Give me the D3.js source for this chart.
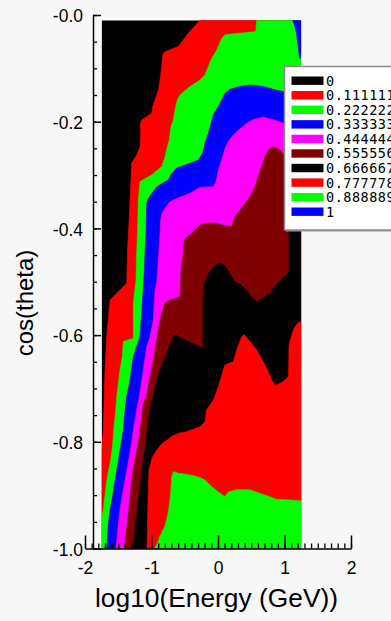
<!DOCTYPE html>
<html>
<head>
<meta charset="utf-8">
<script src="https://cdn.jsdelivr.net/npm/d3@7"></script>
<style>
  html, body { margin: 0; padding: 0; background: #f7f7f7; }
  svg { display: block; }
</style>
</head>
<body>
<svg id="chart" width="391" height="621"></svg>
<script>
// Contour levels, their labels and fill colours (palette repeats after 0.555556)
const levels = [0, 0.111111, 0.222222, 0.333333, 0.444444, 0.555556, 0.666667, 0.777778, 0.888889, 1];
const levelLabels = ["0", "0.111111", "0.222222", "0.333333", "0.444444", "0.555556", "0.666667", "0.777778", "0.888889", "1"];
const levelColors = ["#000000", "#ff0000", "#00ff00", "#0000ff", "#ff00ff", "#800000", "#000000", "#ff0000", "#00ff00", "#0000ff"];

// Axis ticks
const xTicks = [-2, -1, 0, 1, 2];
const xTickLabels = ["-2", "-1", "0", "1", "2"];
const yTicks = [-1, -0.8, -0.6, -0.4, -0.2, 0];
const yTickLabels = ["-1.0", "-0.8", "-0.6", "-0.4", "-0.2", "-0.0"];

// Extent of the sampled (log10 E, cos theta) grid
const logEExtent = [-1.75, 1.25];
const cosExtent = [-1, -0.01];

// Iso-lines [log10 E, cos theta] bounding the region where the value >= level

// level 0.111111: from the top edge down to the left edge
const iso1 = [[-0.27, -0.01], [-0.447, -0.034], [-0.597, -0.059], [-0.797, -0.069], [-0.832, -0.075],
  [-0.847, -0.097], [-0.872, -0.122], [-0.898, -0.141], [-0.947, -0.159], [-0.982, -0.172],
  [-0.997, -0.184], [-1.147, -0.197], [-1.173, -0.206], [-1.162, -0.219], [-1.173, -0.247],
  [-1.223, -0.262], [-1.298, -0.278], [-1.313, -0.322], [-1.334, -0.378], [-1.358, -0.434],
  [-1.373, -0.503], [-1.624, -0.534], [-1.674, -0.603], [-1.699, -0.665], [-1.714, -0.728],
  [-1.725, -0.778], [-1.75, -0.815]];

// level 0.222222: from the top edge down to the left edge
const iso2 = [[0.582, -0.01], [0.567, -0.031], [0.105, -0.037], [0.056, -0.044], [-0.02, -0.066],
  [-0.095, -0.081], [-0.146, -0.097], [-0.195, -0.112], [-0.271, -0.122], [-0.421, -0.134],
  [-0.571, -0.15], [-0.612, -0.159], [-0.647, -0.178], [-0.672, -0.197], [-0.707, -0.209],
  [-0.732, -0.234], [-0.762, -0.247], [-0.797, -0.266], [-0.847, -0.284], [-0.997, -0.3],
  [-1.173, -0.312], [-1.198, -0.347], [-1.208, -0.397], [-1.223, -0.447], [-1.233, -0.497],
  [-1.273, -0.54], [-1.273, -0.606], [-1.424, -0.612], [-1.439, -0.64], [-1.474, -0.665],
  [-1.499, -0.69], [-1.523, -0.715], [-1.538, -0.74], [-1.564, -0.772], [-1.583, -0.803],
  [-1.613, -0.834], [-1.654, -0.859], [-1.684, -0.884], [-1.707, -0.909], [-1.725, -0.928],
  [-1.75, -0.943]];

// level 0.333333: from the right edge down to the bottom edge
const iso3 = [[1.25, -0.144], [1.008, -0.144], [0.883, -0.141], [0.681, -0.134], [0.481, -0.131],
  [0.331, -0.134], [0.18, -0.139], [0.105, -0.147], [0.056, -0.159], [0.005, -0.172],
  [-0.071, -0.187], [-0.11, -0.206], [-0.146, -0.222], [-0.195, -0.24], [-0.23, -0.259],
  [-0.296, -0.272], [-0.421, -0.278], [-0.621, -0.287], [-0.696, -0.297], [-0.747, -0.309],
  [-0.922, -0.322], [-1.048, -0.344], [-1.072, -0.353], [-1.083, -0.409], [-1.098, -0.447],
  [-1.11, -0.487], [-1.173, -0.603], [-1.273, -0.64], [-1.323, -0.684], [-1.373, -0.715],
  [-1.398, -0.74], [-1.424, -0.778], [-1.463, -0.809], [-1.504, -0.84], [-1.549, -0.872],
  [-1.586, -0.903], [-1.624, -0.928], [-1.649, -0.953], [-1.674, -1.0]];

// level 0.333333: small patch in the top right corner
const iso3Corner = [[1.123, -0.01], [1.15, -0.019], [1.18, -0.034], [1.203, -0.056],
  [1.226, -0.081], [1.25, -0.081]];

// level 0.444444: from the right edge down to the bottom edge
const iso4 = [[1.25, -0.204], [1.008, -0.204], [0.883, -0.198], [0.681, -0.191], [0.531, -0.196],
  [0.432, -0.203], [0.305, -0.216], [0.206, -0.228], [0.155, -0.237], [0.105, -0.25],
  [0.056, -0.272], [0.005, -0.291], [-0.03, -0.312], [-0.071, -0.322], [-0.271, -0.323],
  [-0.421, -0.334], [-0.621, -0.344], [-0.722, -0.35], [-0.797, -0.362], [-0.847, -0.372],
  [-0.862, -0.384], [-0.872, -0.409], [-0.898, -0.459], [-0.917, -0.497], [-0.947, -0.515],
  [-0.973, -0.572], [-1.023, -0.603], [-1.072, -0.622], [-1.123, -0.665], [-1.147, -0.684],
  [-1.183, -0.715], [-1.223, -0.74], [-1.273, -0.778], [-1.308, -0.809], [-1.353, -0.84],
  [-1.398, -0.872], [-1.444, -0.903], [-1.474, -0.928], [-1.504, -0.959], [-1.534, -1.0]];

// level 0.555556: from the right edge down to the bottom edge
const iso5 = [[1.25, -0.264], [1.008, -0.266], [0.932, -0.253], [0.832, -0.247], [0.756, -0.253],
  [0.707, -0.266], [0.657, -0.284], [0.606, -0.303], [0.556, -0.322], [0.481, -0.341],
  [0.406, -0.353], [0.331, -0.366], [0.256, -0.378], [0.206, -0.397], [0.08, -0.394],
  [-0.045, -0.39], [-0.17, -0.39], [-0.271, -0.394], [-0.346, -0.403], [-0.421, -0.412],
  [-0.496, -0.419], [-0.511, -0.428], [-0.522, -0.447], [-0.556, -0.478], [-0.571, -0.528],
  [-0.722, -0.534], [-0.797, -0.54], [-0.847, -0.559], [-0.898, -0.59], [-0.947, -0.628],
  [-0.997, -0.665], [-1.033, -0.684], [-1.072, -0.715], [-1.123, -0.728], [-1.147, -0.753],
  [-1.18, -0.784], [-1.218, -0.815], [-1.256, -0.84], [-1.293, -0.865], [-1.323, -0.903],
  [-1.353, -0.94], [-1.383, -0.972], [-1.406, -1.0]];

// level 0.666667: from the bottom edge, round the upper lobe, to the right edge
const iso6 = [[-1.271, -1.0], [-1.248, -0.965], [-1.203, -0.915], [-1.143, -0.853], [-1.083, -0.802],
  [-1.023, -0.74], [-0.977, -0.716], [-0.917, -0.684], [-0.842, -0.656], [-0.752, -0.628],
  [-0.672, -0.603], [-0.647, -0.6], [-0.271, -0.622], [-0.226, -0.624], [-0.226, -0.534],
  [-0.211, -0.506], [-0.165, -0.491], [-0.105, -0.478], [-0.03, -0.469], [0.03, -0.465],
  [0.105, -0.47], [0.18, -0.485], [0.241, -0.499], [0.346, -0.506], [0.436, -0.517],
  [0.511, -0.529], [0.586, -0.538], [0.677, -0.53], [0.782, -0.521], [0.872, -0.506],
  [0.977, -0.493], [1.068, -0.482], [1.068, -0.328], [1.25, -0.328]];

// level 0.777778: from the bottom edge to the right edge
const iso7 = [[-1.068, -1.0], [-1.053, -0.909], [-1.038, -0.853], [-0.992, -0.83], [-0.917, -0.815],
  [-0.847, -0.804], [-0.696, -0.79], [-0.597, -0.784], [-0.471, -0.781], [-0.271, -0.772],
  [-0.195, -0.762], [-0.17, -0.74], [-0.071, -0.722], [0.005, -0.697], [0.08, -0.665],
  [0.105, -0.656], [0.23, -0.65], [0.281, -0.628], [0.356, -0.603], [0.391, -0.599],
  [0.481, -0.612], [0.582, -0.628], [0.681, -0.65], [0.756, -0.669], [0.832, -0.69],
  [0.872, -0.694], [0.982, -0.687], [1.06, -0.678], [1.068, -0.619], [1.098, -0.604],
  [1.143, -0.587], [1.203, -0.577], [1.25, -0.575]];

// level 0.888889: from the bottom edge to the right edge
const iso8 = [[-0.955, -1.0], [-0.917, -0.992], [-0.872, -0.977], [-0.797, -0.958], [-0.747, -0.932],
  [-0.714, -0.9], [-0.696, -0.866], [-0.672, -0.856], [-0.597, -0.859], [-0.421, -0.862],
  [-0.271, -0.867], [-0.195, -0.872], [-0.095, -0.884], [0.005, -0.894], [0.105, -0.903],
  [0.155, -0.894], [0.281, -0.89], [0.481, -0.89], [0.632, -0.897], [0.782, -0.903],
  [0.883, -0.908], [1.083, -0.909], [1.25, -0.911]];

// Fill order: each region is the set where the value reaches its level,
// closed along the grid border through the listed corners.
const regions = [
  { level: 1, pts: iso1, corners: ["bl", "br", "tr"] },
  { level: 2, pts: iso2, corners: ["bl", "br", "tr"] },
  { level: 3, pts: iso3, corners: ["br"] },
  { level: 3, pts: iso3Corner, corners: ["tr"] },
  { level: 4, pts: iso4, corners: ["br"] },
  { level: 5, pts: iso5, corners: ["br"] },
  { level: 6, pts: iso6, corners: ["br"] },
  { level: 7, pts: iso7, corners: ["br"] },
  { level: 8, pts: iso8, corners: ["br"] }
];

const svg = d3.select("#chart");
const W = 391, H = 621;

svg.append("rect").attr("width", W).attr("height", H).attr("fill", "#f7f7f7");

const x = d3.scaleLinear().domain([-2, 2]).range([85, 351]);
const y = d3.scaleLinear().domain([-1, 0]).range([548.5, 15]);

const corner = {
  bl: [logEExtent[0], cosExtent[0]],
  br: [logEExtent[1], cosExtent[0]],
  tr: [logEExtent[1], cosExtent[1]],
  tl: [logEExtent[0], cosExtent[1]]
};

// clip to the sampled grid
svg.append("clipPath").attr("id", "grid")
  .append("rect")
  .attr("x", x(logEExtent[0]))
  .attr("y", y(cosExtent[1]))
  .attr("width", x(logEExtent[1]) - x(logEExtent[0]))
  .attr("height", y(cosExtent[0]) - y(cosExtent[1]));

const plot = svg.append("g").attr("clip-path", "url(#grid)");

// lowest level fills the whole grid
plot.append("rect")
  .attr("x", x(logEExtent[0]))
  .attr("y", y(cosExtent[1]))
  .attr("width", x(logEExtent[1]) - x(logEExtent[0]))
  .attr("height", y(cosExtent[0]) - y(cosExtent[1]))
  .attr("fill", levelColors[0]);

const line = d3.line().x(d => x(d[0])).y(d => y(d[1]));

plot.selectAll("path.band")
  .data(regions)
  .join("path")
  .attr("class", "band")
  .attr("d", r => line(r.pts.concat(r.corners.map(c => corner[c]))) + "Z")
  .attr("fill", r => levelColors[r.level])
  .attr("stroke", r => levelColors[r.level])
  .attr("stroke-width", 0.6);

// ---- axes ----
const axisColor = "#000";
const tickFont = "Liberation Sans, Arial, Helvetica, sans-serif";

// y axis (ticks point into the plot, labels on the left)
const yAxisX = 93;
const yMinor = d3.range(-1, 0.0001, 0.05).map(v => +v.toFixed(2));
svg.append("g")
  .attr("transform", `translate(${yAxisX},0)`)
  .call(d3.axisLeft(y).tickValues(yMinor).tickSize(-4).tickSizeOuter(0).tickFormat(""))
  .call(g => g.select(".domain").remove())
  .call(g => g.selectAll("line").attr("stroke", axisColor).attr("stroke-width", 1.3));

const yAxis = svg.append("g")
  .attr("transform", `translate(${yAxisX},0)`)
  .call(d3.axisLeft(y).tickValues(yTicks).tickSize(-8).tickSizeOuter(0).tickPadding(10)
    .tickFormat((d, i) => yTickLabels[i]));
yAxis.select(".domain").attr("stroke", axisColor).attr("stroke-width", 1.5);
yAxis.selectAll("line").attr("stroke", axisColor).attr("stroke-width", 1.5);
yAxis.selectAll("text")
  .attr("fill", "#000")
  .attr("font-family", tickFont)
  .attr("font-size", 17.5)
  .attr("dy", "0.38em");

// x axis (ticks point up, minor every 0.1)
const xAxisY = y(-1);
const xMinor = d3.range(-2, 2.0001, 0.1).map(v => +v.toFixed(1));
svg.append("g")
  .attr("transform", `translate(0,${xAxisY})`)
  .call(d3.axisBottom(x).tickValues(xMinor).tickSize(-5).tickSizeOuter(0).tickFormat(""))
  .call(g => g.select(".domain").remove())
  .call(g => g.selectAll("line").attr("stroke", axisColor).attr("stroke-width", 1.3));

const xAxis = svg.append("g")
  .attr("transform", `translate(0,${xAxisY})`)
  .call(d3.axisBottom(x).tickValues(xTicks).tickSize(-13).tickSizeOuter(0).tickPadding(13)
    .tickFormat((d, i) => xTickLabels[i]));
xAxis.select(".domain").attr("stroke", axisColor).attr("stroke-width", 1.5);
xAxis.selectAll("line").attr("stroke", axisColor).attr("stroke-width", 1.5);
xAxis.selectAll("text")
  .attr("fill", "#000")
  .attr("font-family", tickFont)
  .attr("font-size", 17.5);

// axis titles
svg.append("text")
  .attr("x", 216.5)
  .attr("y", 607)
  .attr("text-anchor", "middle")
  .attr("font-family", tickFont)
  .attr("font-size", 25)
  .attr("textLength", 243)
  .attr("lengthAdjust", "spacingAndGlyphs")
  .attr("fill", "#000")
  .text("log10(Energy (GeV))");

svg.append("text")
  .attr("transform", "translate(33,303) rotate(-90)")
  .attr("text-anchor", "middle")
  .attr("font-family", tickFont)
  .attr("font-size", 24)
  .attr("fill", "#000")
  .text("cos(theta)");

// ---- legend (runs past the right edge of the canvas) ----
const legend = svg.append("g").attr("transform", "translate(284.5,66.5)");
legend.append("rect")
  .attr("x", 1.5).attr("y", 1.5)
  .attr("width", 120).attr("height", 163.5)
  .attr("fill", "#9a9a9a");
legend.append("rect")
  .attr("width", 120).attr("height", 163.5)
  .attr("fill", "#ffffff")
  .attr("stroke", "#8a8a8a")
  .attr("stroke-width", 1.5);

const rowY = d3.scalePoint().domain(d3.range(levels.length)).range([14.2, 145.2]);
const rows = legend.selectAll("g.row")
  .data(levels)
  .join("g")
  .attr("class", "row")
  .attr("transform", (d, i) => `translate(0,${rowY(i)})`);
rows.append("rect")
  .attr("x", 7).attr("y", -4.2)
  .attr("width", 32).attr("height", 8.4)
  .attr("fill", (d, i) => levelColors[i]);
rows.append("text")
  .attr("x", 41.5)
  .attr("dy", "0.37em")
  .attr("font-family", "DejaVu Sans Mono, monospace")
  .attr("font-size", 13.5)
  .attr("letter-spacing", 0.5)
  .attr("fill", "#000")
  .text((d, i) => levelLabels[i]);
</script>
</body>
</html>
